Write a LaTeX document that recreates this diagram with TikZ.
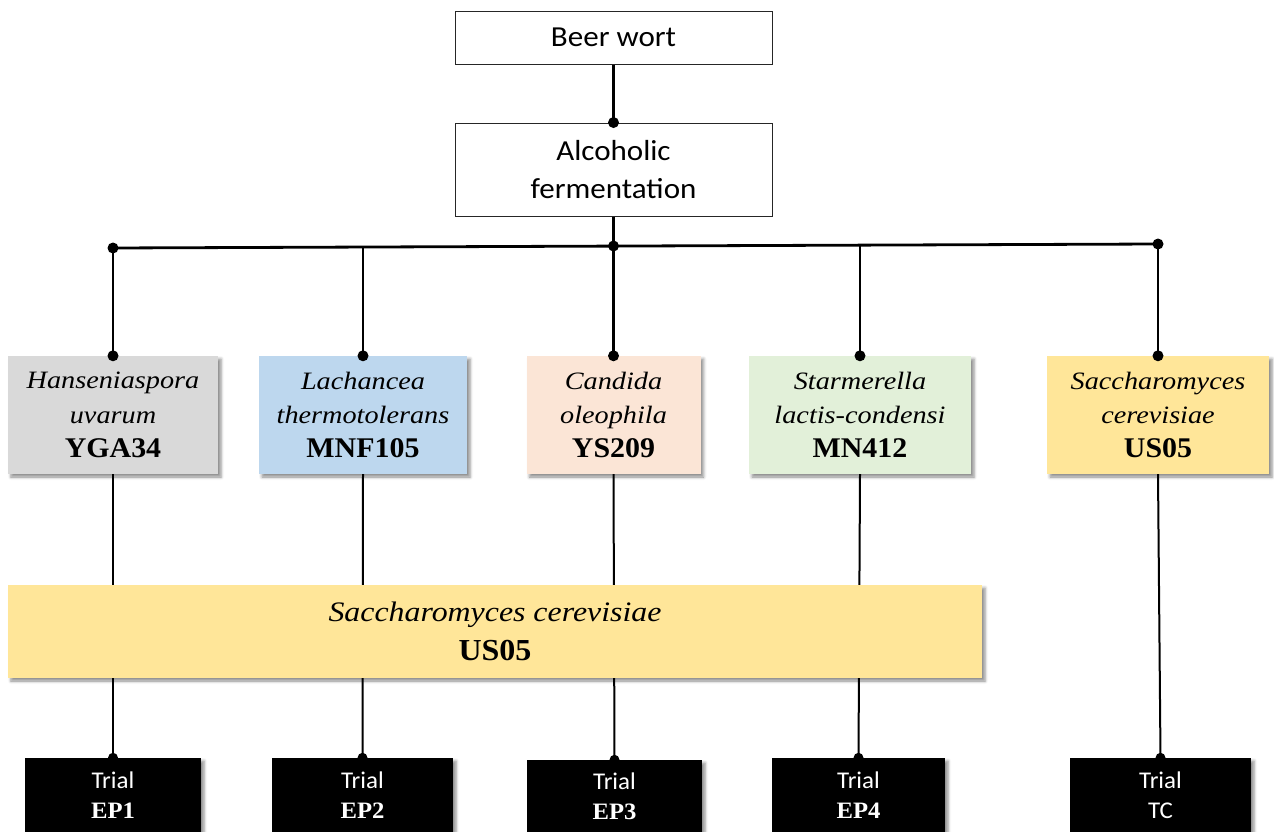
\documentclass[tikz,border=0pt]{standalone}
\usepackage{fontspec}
\setmainfont[FakeStretch=1.13]{Liberation Serif}
\newfontfamily\tnrb[FakeStretch=1.05]{Liberation Serif}
\newfontfamily\calib[FakeStretch=1.07]{Carlito}
\newfontfamily\calibn[FakeStretch=1.04]{Carlito}
\usetikzlibrary{shadows.blur}
\pgfdeclarelayer{bg}
\pgfsetlayers{bg,main}
\definecolor{cgray}{HTML}{D9D9D9}
\definecolor{cblue}{HTML}{BDD7EE}
\definecolor{cpeach}{HTML}{FBE5D6}
\definecolor{cgreen}{HTML}{E2F0D9}
\definecolor{cyellow}{HTML}{FFE699}
\newcommand{\spc}[3]{\textit{#1}\\\textit{#2}\\{\tnrb\bfseries\fontsize{28.5}{34.3}\selectfont #3}}
\newcommand{\trl}[1]{{\calibn Trial}\\{\tnrb\bfseries\fontsize{23.5}{30}\selectfont #1}}
\tikzset{
  topbox/.style={draw=black!85, line width=0.9pt, fill=white, minimum width=317pt, inner sep=0pt, align=center, font=\calib\fontsize{29}{38}\selectfont},
  shad/.style={blur shadow={shadow xshift=3pt, shadow yshift=-3pt, shadow blur radius=3pt, shadow opacity=45}},
  species/.style={shad, minimum height=118pt, inner sep=0pt, align=center, font=\fontsize{25}{34.3}\selectfont},
  bigbox/.style={shad, fill=cyellow, minimum width=974pt, minimum height=93pt, inner sep=0pt, align=center, font=\fontsize{28.2}{39}\selectfont},
  trialbox/.style={shad, fill=black, text=white, minimum height=74pt, inner sep=0pt, align=center, font=\fontsize{24}{30}\selectfont},
  thick line/.style={line width=2.8pt},
  thin line/.style={line width=2pt},
}
\begin{document}
\begin{tikzpicture}[x=1pt,y=-1pt]
\useasboundingbox (0,0) rectangle (1274,832);
% top boxes
\node[topbox, minimum height=53pt] (beer) at (613.5,37.5) {Beer wort};
\node[topbox, minimum height=93pt] (alc) at (613.5,169.5) {Alcoholic\\fermentation};
% species boxes
\node[species, fill=cgray, minimum width=210pt] (hans) at (113,415) {\spc{Hanseniaspora}{uvarum}{YGA34}};
\node[species, fill=cblue, minimum width=208pt] (lach) at (363,415) {\spc{Lachancea}{thermotolerans}{MNF105}};
\node[species, fill=cpeach, minimum width=174pt] (cand) at (613.5,415) {\spc{Candida}{oleophila}{YS209}};
\node[species, fill=cgreen, minimum width=222pt] (star) at (860,415) {\spc{Starmerella}{lactis-condensi}{MN412}};
\node[species, fill=cyellow, minimum width=222pt] (sacch) at (1158,415) {\spc{Saccharomyces}{cerevisiae}{US05}};
% big yellow box
\node[bigbox] (big) at (495,631.5) {\textit{Saccharomyces cerevisiae}\\{\tnrb\bfseries\fontsize{30.5}{39}\selectfont US05}};
% trial boxes
\node[trialbox, minimum width=176pt] (ep1) at (113,795) {\trl{EP1}};
\node[trialbox, minimum width=181pt] (ep2) at (362.5,795) {\trl{EP2}};
\node[trialbox, minimum width=175pt, minimum height=72pt] (ep3) at (614.5,796) {\trl{EP3}};
\node[trialbox, minimum width=173pt] (ep4) at (858.5,795) {\trl{EP4}};
\node[trialbox, minimum width=181pt] (tc) at (1160.5,795) {{\calibn Trial}\\{\calibn TC}};
% bus coordinates
\coordinate (b1) at (113,248);
\coordinate (b2) at (363,247);
\coordinate (b3) at (613.5,246);
\coordinate (b4) at (860,245);
\coordinate (b5) at (1158,244);
\begin{pgfonlayer}{bg}
  \draw[thick line] (beer.south) -- (alc.north);
  \draw[thick line] (alc.south) -- (b3);
  \draw[thick line] (b1) -- (b5);
  \draw[thick line] (b1) -- (hans.north);
  \draw[thick line] (b2) -- (lach.north);
  \draw[thick line] (b3) -- (cand.north);
  \draw[thick line] (b4) -- (star.north);
  \draw[thick line] (b5) -- (sacch.north);
  \draw[thin line] (hans.south) -- (ep1.north);
  \draw[thin line] (lach.south) -- (ep2.north);
  \draw[thin line] (cand.south) -- (ep3.north);
  \draw[thin line] (star.south) -- (ep4.north);
  \draw[thin line] (sacch.south) -- (tc.north);
  \foreach \n in {ep1,ep2,ep3,ep4,tc} \fill (\n.north) circle (5pt);
\end{pgfonlayer}
% dots
\fill (alc.north) circle (5.5pt);
\foreach \n in {b1,b3,b5} \fill (\n) circle (5.5pt);
\foreach \n in {hans,lach,cand,star,sacch} \fill (\n.north) circle (5.5pt);
\end{tikzpicture}
\end{document}
